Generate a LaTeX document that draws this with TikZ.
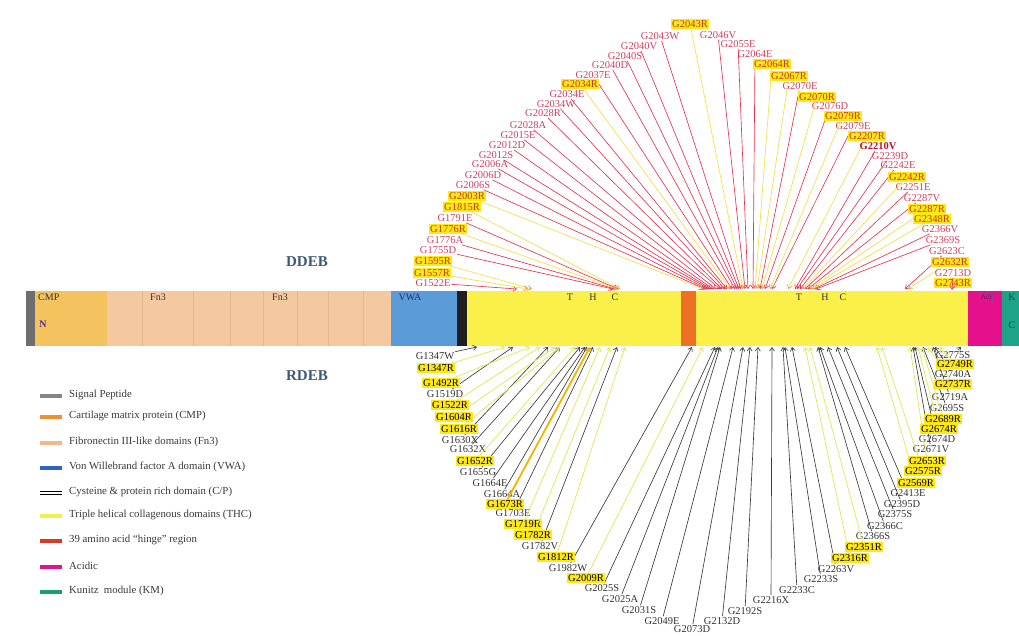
\documentclass[tikz,border=0pt]{standalone}
\usepackage{fontspec}
\setmainfont{Liberation Serif}
\usetikzlibrary{arrows.meta}
\definecolor{sigcol}{HTML}{6E6E70}
\definecolor{cmpcol}{HTML}{F4C25E}
\definecolor{fncol}{HTML}{F5C9A0}
\definecolor{fnline}{HTML}{E6B68C}
\definecolor{vwacol}{HTML}{5A9BD8}
\definecolor{thccol}{HTML}{FBEF4A}
\definecolor{hingecol}{HTML}{EE7024}
\definecolor{acidcol}{HTML}{E4108C}
\definecolor{kunitzcol}{HTML}{1FA388}
\definecolor{redln}{HTML}{E8334F}
\definecolor{yelln}{HTML}{F0E35A}
\definecolor{tiporange}{HTML}{F29A3A}
\definecolor{toptxt}{HTML}{D0405E}
\definecolor{hltxt}{HTML}{C03A10}
\definecolor{hlyel}{HTML}{FFE81A}
\definecolor{bottxt}{HTML}{333333}
\definecolor{blkln}{HTML}{3A3A3A}
\definecolor{byelln}{HTML}{E8E45A}
\definecolor{thickor}{HTML}{F2B400}
\definecolor{debcol}{HTML}{3E5878}
\definecolor{lgsig}{HTML}{858585}
\definecolor{lgcmp}{HTML}{F0902E}
\definecolor{lgfn}{HTML}{F5B68A}
\definecolor{lgvwa}{HTML}{2E63C8}
\definecolor{lgthc}{HTML}{F2F04A}
\definecolor{lghinge}{HTML}{D83A24}
\definecolor{lgacid}{HTML}{E0148C}
\definecolor{lgkun}{HTML}{1F9E72}
\begin{document}
\begin{tikzpicture}[x=1pt,y=-1pt,
  lbl/.style={font=\fontsize{10.5}{12}\selectfont, inner sep=0.8pt, text height=7.2pt, text depth=0.4pt},
  tplain/.style={lbl, text=toptxt},
  thl/.style={lbl, fill=hlyel, text=hltxt},
  bplain/.style={lbl, text=bottxt},
  bhl/.style={lbl, fill=hlyel, text=black},
  tip/.style={-{Straight Barb[length=3.5pt,width=5pt]}},
  redarr/.style={draw=redln, line width=0.65pt, tip},
  yelarr/.style={draw=yelln, line width=0.75pt, -{Straight Barb[length=3.5pt,width=5pt,color=tiporange]}},
  blkarr/.style={draw=blkln, line width=0.65pt, tip},
  byelarr/.style={draw=byelln, line width=0.75pt, tip},
  orarr/.style={draw=thickor, line width=1.8pt, -{Straight Barb[length=3pt,width=4pt]}},
  bartxt/.style={font=\fontsize{10}{12}\selectfont, inner sep=0pt, text=black!80},
  legtxt/.style={font=\fontsize{10.8}{12}\selectfont, anchor=west, inner sep=0pt, text=black!78},
  swatch/.style={line width=3.2pt}
]
\useasboundingbox (0,0) rectangle (1019,635);

% ---------- bar ----------
\fill[sigcol] (26,291) rectangle (35,346);
\fill[cmpcol] (35,291) rectangle (107,346);
\fill[fncol] (107,291) rectangle (391,346);
\foreach \xx in {142,193,230,263,297,328,363}
  \draw[fnline, line width=0.6pt] (\xx,291) -- (\xx,346);
\fill[vwacol] (391,291) rectangle (457,346);
\fill[black!88] (457,291) rectangle (467,346);
\fill[thccol] (467,291) rectangle (681,346);
\fill[hingecol] (681,291) rectangle (696,346);
\fill[thccol] (696,291) rectangle (968,346);
\fill[acidcol] (968,291) rectangle (1002,346);
\fill[kunitzcol] (1002,291) rectangle (1019,346);

\node[bartxt, anchor=west] (cmp) at (38,297) {CMP};
\node[bartxt, font=\fontsize{10}{12}\selectfont\bfseries, text={rgb,255:red,70;green,40;blue,150}] (nterm) at (43,324) {N};
\node[bartxt] (fnA) at (158,297) {Fn3};
\node[bartxt] (fnB) at (280,297) {Fn3};
\node[bartxt, text={rgb,255:red,30;green,50;blue,110}] (vwa) at (410,297) {VWA};
\node[bartxt] (t1) at (570,297) {T};
\node[bartxt] (h1) at (593,297) {H};
\node[bartxt] (c1) at (615,297) {C};
\node[bartxt] (t2) at (799,297) {T};
\node[bartxt] (h2) at (825,297) {H};
\node[bartxt] (c2) at (843,297) {C};
\node[draw={rgb,255:red,150;green,60;blue,150}, line width=0.4pt, inner sep=1pt, font=\fontsize{7.5}{9}\selectfont, text={rgb,255:red,110;green,20;blue,90}] (aci) at (986,297.5) {Aci};
\node[bartxt, text={rgb,255:red,20;green,70;blue,60}] (kk) at (1012,297) {K};
\node[bartxt, text={rgb,255:red,20;green,70;blue,60}] (kc) at (1012,325) {C};

\node[font=\fontsize{15}{17}\selectfont\bfseries, text=debcol] (ddeb) at (307,262) {DDEB};
\node[font=\fontsize{15}{17}\selectfont\bfseries, text=debcol] (rdeb) at (307,376) {RDEB};

% ---------- top (DDEB) labels ----------
\foreach \nm/\lx/\ly/\tx in {
 G2043W/660/36/741, G2040V/639/46/739, G2040S/625/56/737, G2040D/610/65/735,
 G2037E/593/75/732, G2034E/567/94/727, G2034W/556/104/725, G2028R/543/113/722,
 G2028A/528/125/720, G2015E/518/135/716, G2012D/507/145/713, G2012S/496/155/711,
 G2006A/490/164/709, G2006D/483/175/707, G2006S/473/185/705, G1791E/455/218/618,
 G1776A/445/240/615, G1755D/438/250/613, G1522E/433/283/517,
 G2046V/718/35/745, G2055E/738/44/748, G2064E/755/54/753, G2070E/800/86/760,
 G2076D/830/106/765, G2079E/853/126/772, G2239D/890/156/797, G2242E/898/165/800,
 G2251E/913/187/805, G2287V/922/198/808, G2366V/940/229/814, G2369S/943/240/816,
 G2623C/947/251/905}{
  \node[tplain] (t\nm) at (\lx,\ly) {\nm};
  \coordinate (e\nm) at (\tx,289);
  \draw[redarr] (t\nm) -- (e\nm);
}
\foreach \nm/\lx/\ly/\tx in {
 G2043R/690/24/743, G2034R/580/84/730, G2003R/467/196/703, G1815R/462/207/620,
 G1776R/448/229/617, G1595R/433/261/532, G1557R/432/273/528,
 G2064R/772/64/755, G2067R/789/76/757, G2070R/817/97/762, G2079R/843/116/770,
 G2207R/867/136/788, G2242R/907/177/803, G2287R/927/209/810, G2348R/932/219/812,
 G2632R/950/262/908}{
  \node[thl] (t\nm) at (\lx,\ly) {\nm};
  \coordinate (e\nm) at (\tx,289);
  \draw[yelarr] (t\nm) -- (e\nm);
}
\node[lbl, font=\fontsize{10.5}{12}\selectfont\bfseries, text={rgb,255:red,185;green,20;blue,45}] (tG2210V) at (878,146) {G2210V};
\coordinate (eG2210V) at (795,289);
\draw[redarr] (tG2210V) -- (eG2210V);
\node[thl] (tG2743R) at (953,283) {G2743R};
\node[tplain] (tG2713D) at (953,273) {G2713D};
\coordinate (eG2713D) at (952,290);
\draw[redarr] (tG2713D.south) -- (eG2713D);

% ---------- bottom (RDEB) labels ----------
\foreach \nm/\lx/\ly/\tx in {
 G1347W/435/356/477, G1519D/445/394/513, G1630X/460/440/548, G1632X/468/449/560,
 G1655G/478/472/580, G1664E/490/483/585, G1664A/502/494/587, G1703E/513/513/593,
 G1782V/540/546/617, G1982W/568/568/692, G2025S/602/588/715, G2025A/620/599/718,
 G2031S/639/610/720, G2049E/662/621/733, G2073D/692/629/743, G2132D/722/621/750,
 G2192S/745/611/758, G2216X/771/600/772, G2233C/797/590/783, G2233S/821/579/785,
 G2263V/836/569/792, G2366S/873/536/818, G2366C/885/526/820, G2375S/895/514/828,
 G2395D/902/504/837, G2413E/908/493/845, G2671V/931/449/913, G2674D/937/439/915,
 G2695S/947/408/923, G2719A/950/397/933, G2740A/953/374/935, G2775S/953/355/961}{
  \node[bplain] (b\nm) at (\lx,\ly) {\nm};
  \coordinate (f\nm) at (\tx,347);
  \draw[blkarr] (b\nm) -- (f\nm);
}
\foreach \nm/\lx/\ly/\tx in {
 G1347R/436/368/505, G1492R/441/383/530, G1522R/450/405/540, G1604R/454/417/555,
 G1616R/459/429/560, G1652R/475/461/575, G1719R/523/524/600, G1782R/533/535/610,
 G1812R/556/557/625, G2009R/586/578/703, G2316R/850/558/805, G2351R/864/547/810,
 G2569R/916/483/877, G2575R/923/471/882, G2653R/927/461/910, G2674R/939/429/918,
 G2689R/943/419/922, G2737R/953/384/928, G2749R/955/364/940}{
  \node[bhl] (b\nm) at (\lx,\ly) {\nm};
  \coordinate (f\nm) at (\tx,347);
  \draw[byelarr] (b\nm) -- (f\nm);
}
\node[bhl] (bG1673R) at (505,504) {G1673R};
\coordinate (fG1673R) at (590,347);
\draw[orarr] (bG1673R) -- (fG1673R);

% ---------- legend ----------
\foreach \yy/\cc/\tt [count=\k] in {
 396/lgsig/{Signal Peptide},
 417/lgcmp/{Cartilage matrix protein (CMP)},
 443/lgfn/{Fibronectin III-like domains (Fn3)},
 468/lgvwa/{Von Willebrand factor A domain (VWA)},
 516/lgthc/{Triple helical collagenous domains (THC)},
 541/lghinge/{39 amino acid ``hinge'' region},
 567/lgacid/{Acidic},
 592/lgkun/{Kunitz\ \ module (KM)}}{
  \coordinate (sa\k) at (40,\yy);
  \coordinate (sb\k) at (62,\yy);
  \draw[swatch, \cc] (sa\k) -- (sb\k);
  \node[legtxt] (lg\k) at (69,\yy-1) {\tt};
}
\coordinate (cpa) at (40,491.5);
\coordinate (cpb) at (62,491.5);
\coordinate (cpc) at (40,494.5);
\coordinate (cpd) at (62,494.5);
\draw[black, line width=1.1pt] (cpa) -- (cpb);
\draw[black, line width=1.1pt] (cpc) -- (cpd);
\node[legtxt] (lgcp) at (69,492) {Cysteine \& protein rich domain (C/P)};
\end{tikzpicture}
\end{document}
